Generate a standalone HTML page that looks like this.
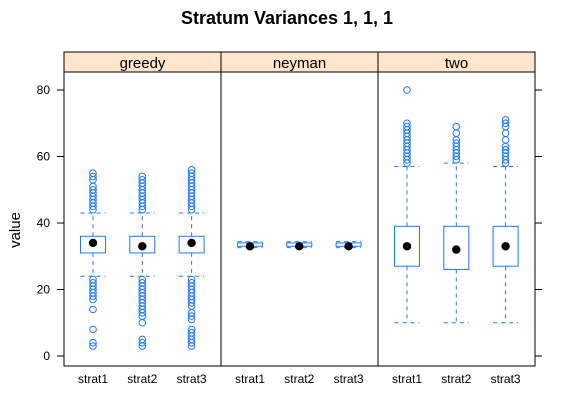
<!DOCTYPE html>
<html><head><meta charset="utf-8"><style>
body{margin:0;background:#fff;font-family:"Liberation Sans",Arial,sans-serif}
</style></head><body>
<svg id="c" width="574" height="412" xmlns="http://www.w3.org/2000/svg">
<text x="287" y="24" text-anchor="middle" font-size="18" font-weight="bold">Stratum Variances 1, 1, 1</text>
<text transform="translate(20,230) rotate(-90)" text-anchor="middle" font-size="15">value</text>
<g id="plot"></g>
</svg>
<script>
const panels = ["greedy","neyman","two"];
const categories = ["strat1","strat2","strat3"];
const yTicks = [0,20,40,60,80];
// [q1, median, q3, whiskerLow, whiskerHigh] per panel per category
const greedyStats = [[31,34,36,24,43],[31,33,36,24,43],[31,34,36,24,43]];
const neymanStats = [[33,33,34,32.6,34.4],[33,33,34,32.6,34.4],[33,33,34,32.6,34.4]];
const twoStats = [[27,33,39,10,57],[26,32,39,10,58],[27,33,39,10,57]];
const greedyOutliers = [
 [44,45,46,47,48,49,50,51,53,54,55,23,22,21,20,19,18,17,14,8,4,3],
 [44,45,46,47,48,49,50,51,52,53,54,23,22,21,20,19,18,17,16,15,14,13,12,10,5,4,3],
 [44,45,46,47,48,49,50,51,52,53,54,55,56,23,22,21,20,19,18,17,16,15,13,12,11,8,7,6,5,4,3]];
const neymanOutliers = [[],[],[]];
const twoOutliers = [
 [58,59,60,61,62,63,64,65,66,67,68,69,70,80],
 [59,60,61,62,63,64,65,67,69],
 [58,59,60,61,62,63,65,67,69,70,71]];
const allStats=[greedyStats,neymanStats,twoStats], allOut=[greedyOutliers,neymanOutliers,twoOutliers];
const L=64,R=535,T=52,SB=72,B=366,pw=(R-L)/3;
const y=v=>356-v*3.325;
const xc=(p,i)=>L+p*pw+29+i*49.3;
const g=document.getElementById('plot');
const NS="http://www.w3.org/2000/svg";
function el(t,a,txt){const e=document.createElementNS(NS,t);for(const k in a)e.setAttribute(k,a[k]);if(txt!=null)e.textContent=txt;g.appendChild(e);return e;}
const blue="#1f78ff";
panels.forEach((p,pi)=>{
 const x0=L+pi*pw;
 let s=el('rect',{x:x0,y:T,width:pw,height:SB-T,fill:"#ffe5cc",stroke:"#000"});
 
 
 let st=el('text',{x:x0+pw/2,y:T+16,"text-anchor":"middle","font-size":15},p);
 
 
 let fr=el('rect',{x:x0,y:SB,width:pw,height:B-SB,fill:"none",stroke:"#000"});
 
 
 categories.forEach((c,i)=>{
  const cx=xc(pi,i),[q1,m,q3,wl,wh]=allStats[pi][i],hw=12.5;
  const gb=el('g',{});
  
  
  const add=(t,a)=>{const e=document.createElementNS(NS,t);for(const k in a)e.setAttribute(k,a[k]);gb.appendChild(e);};
  const ds={stroke:blue,"stroke-dasharray":"4,4",fill:"none"};
  add('line',Object.assign({x1:cx,x2:cx,y1:y(q3),y2:y(wh)},ds));
  add('line',Object.assign({x1:cx,x2:cx,y1:y(q1),y2:y(wl)},ds));
  add('line',Object.assign({x1:cx-hw,x2:cx+hw,y1:y(wh),y2:y(wh)},ds));
  add('line',Object.assign({x1:cx-hw,x2:cx+hw,y1:y(wl),y2:y(wl)},ds));
  add('rect',{x:cx-hw,y:y(q3),width:2*hw,height:y(q1)-y(q3),fill:"#fff",stroke:blue});
  add('circle',{cx:cx,cy:y(m),r:4.2,fill:"#000"});
  allOut[pi][i].forEach(v=>add('circle',{cx:cx,cy:y(v),r:3.3,fill:"none",stroke:blue}));
  let t=el('text',{x:cx,y:383,"text-anchor":"middle","font-size":12},c);
  
  
 });
});
yTicks.forEach(v=>{
 el('line',{x1:57,x2:L,y1:y(v),y2:y(v),stroke:"#000"});
 el('line',{x1:R,x2:542,y1:y(v),y2:y(v),stroke:"#000"});
 let t=el('text',{x:50,y:y(v)+4,"text-anchor":"end","font-size":12},v);
 
 
});
</script>
</body></html>
